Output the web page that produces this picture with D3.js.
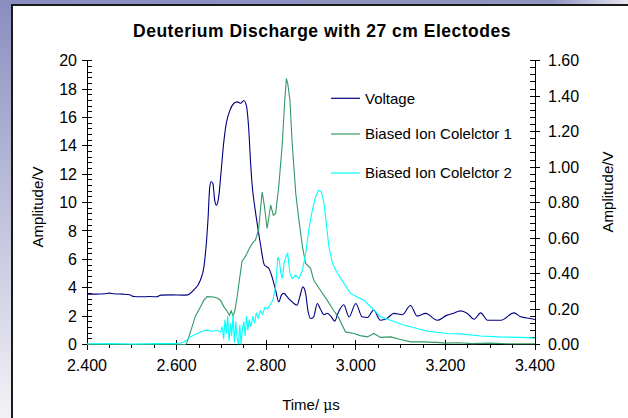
<!DOCTYPE html>
<html>
<head>
<meta charset="utf-8">
<script src="https://cdn.jsdelivr.net/npm/d3@7"></script>
<style>
html,body{margin:0;padding:0;background:#fff;}
svg{display:block;}
text{font-family:"Liberation Sans",Arial,sans-serif;fill:#000;}
</style>
</head>
<body>
<svg id="chart" width="628" height="418"></svg>
<script>
// ---------- DATA ----------
const chartTitle = "Deuterium Discharge with 27 cm Electodes";
const seriesNames = ["Voltage", "Biased Ion Colelctor 1", "Biased Ion Colelctor 2"];
const seriesColors = ["#000080", "#339966", "#00FFFF"];

const xTickLabels = ["2.400","2.600","2.800","3.000","3.200","3.400"];
const yLeftTickLabels = ["0","2","4","6","8","10","12","14","16","18","20"];
const yRightTickLabels = ["0.00","0.20","0.40","0.60","0.80","1.00","1.20","1.40","1.60"];

// Voltage (left axis, V)
const voltageTime = [2.400,2.420,2.440,2.450,2.460,2.480,2.495,2.505,2.520,2.540,2.555,2.565,2.590,2.615,2.625,2.638,2.653,2.661,2.667,2.670,2.674,2.677,2.681,2.685,2.689,2.694,2.699,2.705,2.711,2.719,2.728,2.735,2.743,2.750,2.756,2.761,2.765,2.769,2.774,2.780,2.787,2.796,2.806,2.813,2.821,2.828,2.834,2.839,2.850,2.862,2.869,2.875,2.882,2.888,2.893,2.899,2.906,2.914,2.921,2.929,2.936,2.944,2.953,2.960,2.973,2.985,3.000,3.014,3.026,3.040,3.055,3.070,3.085,3.104,3.122,3.137,3.156,3.182,3.204,3.216,3.234,3.249,3.264,3.279,3.294,3.324,3.353,3.368,3.390,3.400];
const voltage = [3.55,3.55,3.58,3.62,3.58,3.55,3.50,3.38,3.36,3.38,3.36,3.48,3.50,3.48,3.50,3.83,4.53,5.47,7.36,8.77,11.1,11.47,11.35,10.18,9.82,10.4,12.06,14.17,15.6,16.5,17.0,17.1,17.0,17.2,16.8,15.2,12.9,11.1,9.8,8.5,7.1,5.6,5.36,4.77,3.83,3.0,3.48,3.6,3.24,2.89,2.77,3.36,4.06,3.6,2.42,1.83,1.95,2.89,2.5,2.1,2.2,2.0,1.65,2.19,2.8,1.95,2.89,1.95,1.9,2.42,1.71,1.85,2.19,2.1,2.75,2.0,2.19,1.71,2.07,2.19,2.37,2.19,1.78,2.23,1.71,1.71,2.23,1.95,1.83,1.76];

// Biased Ion Collector 1 (right axis, V)
const ion1Time = [2.400,2.620,2.623,2.631,2.642,2.653,2.661,2.668,2.683,2.690,2.698,2.705,2.712,2.718,2.722,2.726,2.730,2.735,2.740,2.746,2.752,2.757,2.762,2.769,2.776,2.783,2.787,2.791,2.796,2.802,2.810,2.816,2.821,2.828,2.836,2.841,2.845,2.848,2.853,2.858,2.866,2.873,2.881,2.888,2.899,2.906,2.921,2.936,2.951,2.962,2.977,2.996,3.010,3.026,3.040,3.055,3.078,3.100,3.122,3.150,3.180,3.200,3.230,3.260,3.300,3.340,3.400];
const ion1 = [0.0,0.0,0.01,0.071,0.16,0.212,0.25,0.27,0.268,0.262,0.25,0.215,0.19,0.165,0.19,0.16,0.19,0.268,0.36,0.47,0.49,0.513,0.54,0.57,0.59,0.645,0.757,0.86,0.78,0.654,0.786,0.729,0.739,0.889,1.134,1.359,1.50,1.472,1.378,1.134,0.852,0.701,0.55,0.457,0.429,0.363,0.306,0.25,0.19,0.15,0.071,0.062,0.05,0.043,0.062,0.04,0.043,0.028,0.015,0.015,0.012,0.008,0.01,0.005,0.008,0.004,0.004];

// Biased Ion Collector 2 (right axis, V)
const ion2Time = [2.400,2.450,2.500,2.550,2.600,2.610,2.620,2.631,2.645,2.660,2.668,2.680,2.690,2.698,2.702,2.705,2.708,2.711,2.714,2.717,2.720,2.723,2.726,2.729,2.732,2.735,2.738,2.741,2.744,2.747,2.750,2.753,2.756,2.759,2.762,2.766,2.770,2.774,2.778,2.782,2.787,2.792,2.797,2.803,2.810,2.815,2.821,2.826,2.829,2.833,2.836,2.840,2.845,2.848,2.853,2.858,2.866,2.873,2.881,2.888,2.895,2.903,2.910,2.917,2.923,2.929,2.935,2.940,2.948,2.959,2.969,2.988,3.003,3.018,3.037,3.055,3.078,3.108,3.137,3.160,3.204,3.234,3.279,3.320,3.387,3.400];
const ion2 = [0.004,0.006,0.003,0.005,0.006,0.008,0.02,0.043,0.06,0.078,0.081,0.075,0.08,0.071,0.10,0.03,0.14,0.06,0.16,0.02,0.12,0.05,0.17,0.01,0.13,0.04,0.0,0.11,0.0,0.09,0.13,0.05,0.16,0.08,0.14,0.10,0.16,0.12,0.18,0.15,0.19,0.17,0.21,0.20,0.23,0.25,0.325,0.494,0.475,0.40,0.372,0.46,0.50,0.513,0.40,0.372,0.39,0.372,0.419,0.513,0.645,0.757,0.832,0.87,0.861,0.795,0.663,0.55,0.457,0.40,0.363,0.288,0.268,0.25,0.203,0.156,0.137,0.109,0.09,0.075,0.062,0.06,0.048,0.043,0.039,0.035];

// ---------- DRAW ----------
const svg = d3.select("#chart");
const defs = svg.append("defs");
const gl = defs.append("linearGradient").attr("id","leftBg").attr("x1",0).attr("y1",0).attr("x2",0).attr("y2",1);
gl.append("stop").attr("offset","0%").attr("stop-color","#8a8ebf");
gl.append("stop").attr("offset","55%").attr("stop-color","#c4c6de");
gl.append("stop").attr("offset","100%").attr("stop-color","#f2f2f6");
const gt = defs.append("linearGradient").attr("id","topBg").attr("x1",0).attr("y1",0).attr("x2",1).attr("y2",0);
gt.append("stop").attr("offset","0%").attr("stop-color","#8a8ebf");
gt.append("stop").attr("offset","88%").attr("stop-color","#9195c3");
gt.append("stop").attr("offset","100%").attr("stop-color","#e6e6f0");

svg.append("rect").attr("x",0).attr("y",0).attr("width",628).attr("height",418).attr("fill","url(#leftBg)");
svg.append("rect").attr("x",0).attr("y",0).attr("width",628).attr("height",5).attr("fill","url(#topBg)");
svg.append("rect").attr("x",12).attr("y",5).attr("width",640).attr("height",430)
  .attr("fill","#fff").attr("stroke","#1a1a1a").attr("stroke-width",2);

const x = d3.scaleLinear().domain([2.4,3.4]).range([87,535]);
const yL = d3.scaleLinear().domain([0,20]).range([344.5,60.7]);
const yR = d3.scaleLinear().domain([0,1.6]).range([344.5,60.7]);

const axisG = svg.append("g").attr("stroke","#000").attr("stroke-width",1).attr("shape-rendering","crispEdges");
const x0 = x.range()[0], x1 = x.range()[1], yb = yL.range()[0], yt = yL.range()[1];

// left axis
axisG.append("line").attr("x1",x0).attr("x2",x0).attr("y1",yt).attr("y2",yb);
d3.range(0,20.001,0.4).forEach(v=>{
  const isMajor = Math.abs(v/2 - Math.round(v/2))<1e-6;
  axisG.append("line").attr("x1",isMajor?x0-5:x0).attr("x2",x0+5).attr("y1",yL(v)).attr("y2",yL(v));
});
// right axis
axisG.append("line").attr("x1",x1).attr("x2",x1).attr("y1",yt).attr("y2",yb);
d3.range(0,1.6001,0.04).forEach(v=>{
  const isMajor = Math.abs(v/0.2 - Math.round(v/0.2))<1e-6;
  axisG.append("line").attr("x1",x1-5).attr("x2",isMajor?x1+5:x1).attr("y1",yR(v)).attr("y2",yR(v));
});
// bottom axis
axisG.append("line").attr("x1",x0).attr("x2",x1).attr("y1",yb).attr("y2",yb);
d3.range(2.4,3.4001,0.05).forEach(v=>{
  const k = (v-2.4)/0.2;
  const isMajor = Math.abs(k-Math.round(k))<1e-6;
  axisG.append("line").attr("x1",x(v)).attr("x2",x(v)).attr("y1",isMajor?yb-5:yb).attr("y2",yb+(isMajor?5:3.5));
});

// tick labels
const tl = svg.append("g").attr("font-size","16px");
yLeftTickLabels.forEach(s=>{
  tl.append("text").attr("x",x0-10).attr("y",yL(+s)).attr("dy","0.35em").attr("text-anchor","end").text(s);
});
yRightTickLabels.forEach(s=>{
  tl.append("text").attr("x",x1+13).attr("y",yR(+s)).attr("dy","0.35em").attr("text-anchor","start").text(s);
});
xTickLabels.forEach(s=>{
  tl.append("text").attr("x",x(+s)).attr("y",371).attr("text-anchor","middle").text(s);
});

// axis titles
svg.append("text").attr("transform","translate(43,207) rotate(-90)").attr("text-anchor","middle").attr("font-size","15px").text("Amplitude/V");
svg.append("text").attr("transform","translate(613,192) rotate(-90)").attr("text-anchor","middle").attr("font-size","15px").text("Amplitude/V");
const xt = svg.append("text").attr("x",311).attr("y",410).attr("text-anchor","middle").attr("font-size","15px");
xt.append("tspan").text("Time/ ");
xt.append("tspan").attr("font-family","DejaVu Serif, serif").attr("font-size","14px").text("μ");
xt.append("tspan").text("s");

// title
svg.append("text").attr("x",322).attr("y",37).attr("text-anchor","middle").attr("font-size","17.5px").attr("letter-spacing","0.5px").attr("font-weight","bold").text(chartTitle);

// series
const lineV = d3.line().x(d=>x(d[0])).y(d=>yL(d[1])).curve(d3.curveMonotoneX);
const lineR = d3.line().x(d=>x(d[0])).y(d=>yR(d[1]));
const s1 = voltageTime.map((t,i)=>[t,voltage[i]]);
const s2 = ion1Time.map((t,i)=>[t,ion1[i]]);
const s3 = ion2Time.map((t,i)=>[t,ion2[i]]);
svg.append("path").attr("d",lineV(s1)).attr("fill","none").attr("stroke",seriesColors[0]).attr("stroke-width",1.1);
svg.append("path").attr("d",lineR(s2)).attr("fill","none").attr("stroke",seriesColors[1]).attr("stroke-width",1.1);
svg.append("path").attr("d",lineR(s3)).attr("fill","none").attr("stroke",seriesColors[2]).attr("stroke-width",1.1);

// legend
const legY = [98.3, 134, 173];
const lg = svg.append("g");
seriesNames.forEach((n,i)=>{
  lg.append("line").attr("x1",331).attr("x2",360).attr("y1",legY[i]).attr("y2",legY[i]).attr("stroke",seriesColors[i]).attr("stroke-width",1.2);
  lg.append("text").attr("x",365).attr("y",legY[i]).attr("dy","0.35em").attr("font-size","15px").text(n);
});
</script>
</body>
</html>
